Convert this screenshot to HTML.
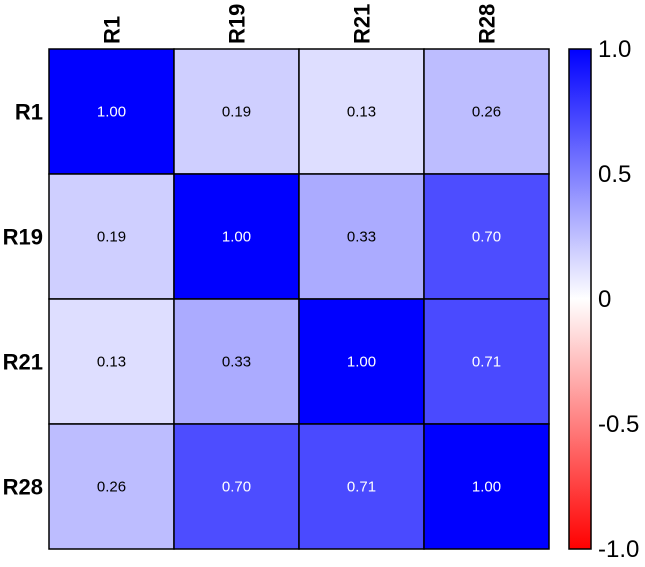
<!DOCTYPE html>
<html><head><meta charset="utf-8"><style>
body{margin:0;background:#fff;font-family:"Liberation Sans",Arial,sans-serif}
</style></head><body>
<svg width="645" height="562" xmlns="http://www.w3.org/2000/svg">
<defs><linearGradient id="cb" x1="0" y1="0" x2="0" y2="1">
<stop offset="0" stop-color="#0000ff"/><stop offset="0.5" stop-color="#ffffff"/><stop offset="1" stop-color="#ff0000"/>
</linearGradient></defs>
<g id="cells"></g>
<g>
<rect x="569" y="49" width="22" height="500" fill="url(#cb)" stroke="#000" stroke-width="1.5"/>
</g>
<g id="cbticks"></g>
</svg>
<script>
const labels=["R1","R19","R21","R28"];
const values=[[1.00,0.19,0.13,0.26],[0.19,1.00,0.33,0.70],[0.13,0.33,1.00,0.71],[0.26,0.70,0.71,1.00]];
const cbTicks=[1.0,0.5,0,-0.5,-1.0];
const cbTickLabels=["1.0","0.5","0","-0.5","-1.0"];
const NS="http://www.w3.org/2000/svg";
const x0=49,y0=49,size=500,n=labels.length,cw=size/n;
const g=document.getElementById('cells');
function col(v){
  if(v>=0){const c=Math.round(255*(1-v));return `rgb(${c},${c},255)`;}
  const c=Math.round(255*(1+v));return `rgb(255,${c},${c})`;
}
function mk(t,a){const e=document.createElementNS(NS,t);for(const k in a)e.setAttribute(k,a[k]);return e;}
for(let i=0;i<n;i++){
  for(let j=0;j<n;j++){
    const v=values[i][j];
    const r=mk('rect',{x:x0+j*cw,y:y0+i*cw,width:cw,height:cw,fill:col(v),stroke:'#000','stroke-width':1.5});
    
    
    g.appendChild(r);
    const t=mk('text',{x:x0+j*cw+cw/2,y:y0+i*cw+cw/2+5,'text-anchor':'middle','font-size':15,fill:Math.abs(v)>=0.5?'#fff':'#000'});
    t.textContent=v.toFixed(2);
    
    
    g.appendChild(t);
  }
  const rl=mk('text',{x:43,y:y0+i*cw+cw/2+8,'text-anchor':'end','font-size':22,'font-weight':'bold',fill:'#000'});
  rl.textContent=labels[i];
  
  
  g.appendChild(rl);
  const cx=x0+i*cw+cw/2+8;
  const cl=mk('text',{x:cx,y:44,'text-anchor':'start','font-size':22,'font-weight':'bold',fill:'#000',transform:`rotate(-90 ${cx} 44)`});
  cl.textContent=labels[i];
  
  
  g.appendChild(cl);
}
const cg=document.getElementById('cbticks');
cbTicks.forEach((v,k)=>{
  const y=49+(1-v)/2*500;
  const t=mk('text',{x:598,y:y+8,'font-size':24,fill:'#000'});
  t.textContent=cbTickLabels[k];
  
  
  cg.appendChild(t);
});
</script>
</body></html>
